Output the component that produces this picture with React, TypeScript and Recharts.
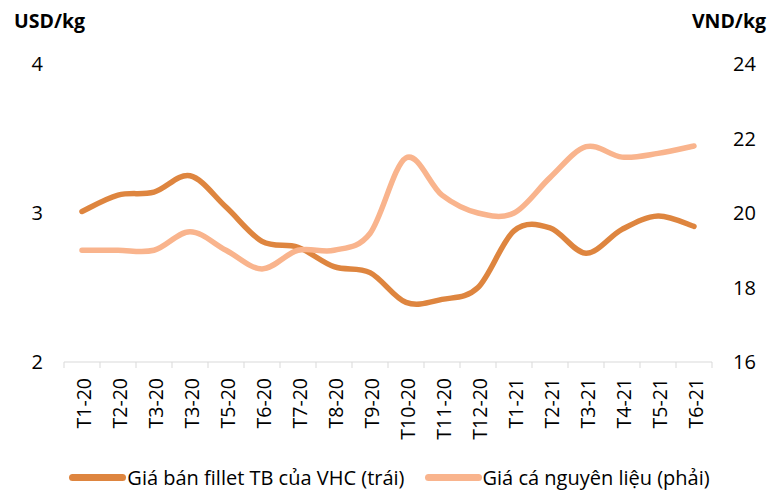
import React from 'react';
import { LineChart, Line, XAxis, YAxis, Legend } from 'recharts';

// Kỳ (tháng) – nhãn trục hoành, giữ nguyên như biểu đồ gốc
const categories = [
  'T1-20', 'T2-20', 'T3-20', 'T3-20', 'T5-20', 'T6-20', 'T7-20', 'T8-20', 'T9-20',
  'T10-20', 'T11-20', 'T12-20', 'T1-21', 'T2-21', 'T3-21', 'T4-21', 'T5-21', 'T6-21',
];

// Giá bán fillet TB của VHC (USD/kg, trục trái)
const filletPrice = [
  3.01, 3.12, 3.14, 3.25, 3.04, 2.81, 2.77, 2.64, 2.6,
  2.4, 2.42, 2.5, 2.88, 2.9, 2.73, 2.89, 2.98, 2.91,
];

// Giá cá nguyên liệu (nghìn VND/kg, trục phải)
const rawFishPrice = [
  19.0, 19.0, 19.0, 19.5, 19.0, 18.5, 19.0, 19.0, 19.45,
  21.48, 20.48, 20.0, 20.0, 20.95, 21.78, 21.5, 21.6, 21.8,
];

const leftTicks = [2, 3, 4];
const rightTicks = [16, 18, 20, 22, 24];

const SERIES = [
  { key: 'fillet', name: 'Giá bán fillet TB của VHC (trái)', color: '#DE853F' },
  { key: 'raw', name: 'Giá cá nguyên liệu (phải)', color: '#F9B48D' },
];

const FONT = '"Open Sans", sans-serif';

const data = categories.map((month, i) => ({
  idx: i,
  month,
  fillet: filletPrice[i],
  raw: rawFishPrice[i],
}));

// đường làm mượt kiểu Excel (Catmull-Rom)
const smoothCurve = (context: any) => {
  let pts: number[][] = [];
  return {
    areaStart() {},
    areaEnd() {},
    lineStart() {
      pts = [];
    },
    point(x: number, y: number) {
      pts.push([+x, +y]);
    },
    lineEnd() {
      if (!pts.length) return;
      context.moveTo(pts[0][0], pts[0][1]);
      for (let i = 0; i < pts.length - 1; i++) {
        const p0 = pts[i - 1] || pts[i];
        const p1 = pts[i];
        const p2 = pts[i + 1];
        const p3 = pts[i + 2] || p2;
        context.bezierCurveTo(
          p1[0] + (p2[0] - p0[0]) / 6,
          p1[1] + (p2[1] - p0[1]) / 6,
          p2[0] - (p3[0] - p1[0]) / 6,
          p2[1] - (p3[1] - p1[1]) / 6,
          p2[0],
          p2[1],
        );
      }
    },
  };
};

// nửa độ rộng một ô tháng: (712 - 64) / 18 / 2
const HALF = 18;

const MonthTick = (props: any) => {
  const { x, y, payload, index } = props;
  const label = categories[payload.value];
  return (
    <g>
      <line x1={x - HALF} y1={y - 8} x2={x - HALF} y2={y - 2} stroke="#d9d9d9" />
      {index === categories.length - 1 && (
        <line x1={x + HALF} y1={y - 8} x2={x + HALF} y2={y - 2} stroke="#d9d9d9" />
      )}
      <text
        transform={`translate(${x + 1},${y + 8}) rotate(-90)`}
        textAnchor="end"
        dominantBaseline="central"
        fontSize={19.5}
        fontFamily={FONT}
        fill="#000"
      >
        {label}
      </text>
    </g>
  );
};

const LegendBox = () => (
  <div style={{ display: 'flex', justifyContent: 'center', height: 30, paddingTop: 3, boxSizing: 'border-box', fontFamily: FONT, fontSize: 20, color: '#000', lineHeight: '24px' }}>
    {SERIES.map((s, i) => (
      <div key={s.key} style={{ display: 'flex', alignItems: 'center', marginLeft: i ? 20 : 0 }}>
        <span style={{ width: 57, height: 7, borderRadius: 4, background: s.color, marginRight: 1 }} />
        <span>{s.name}</span>
      </div>
    ))}
  </div>
);

export default function App() {
  return (
    <div style={{ position: 'absolute', left: 0, top: 0, width: 779, height: 491, background: '#fff' }}>
      <LineChart
        width={779}
        height={491}
        data={data}
        margin={{ top: 64, right: 0, left: 0, bottom: 0 }}
      >
        <XAxis
          dataKey="idx"
          type="category"
          height={99}
          padding={{ left: HALF, right: HALF }}
          axisLine={{ stroke: '#d9d9d9' }}
          tickLine={false}
          interval={0}
          tick={<MonthTick />}
        />
        <YAxis
          yAxisId="left"
          width={64}
          domain={[2, 4]}
          ticks={leftTicks}
          axisLine={false}
          tickLine={false}
          tickSize={0}
          tickMargin={21}
          tick={{ fontSize: 20, fontFamily: FONT, fill: '#000' }}
          label={{
            content: () => (
              <text x={14} y={28} fontSize={19.5} fontWeight={700} fontFamily={FONT} fill="#000">USD/kg</text>
            ),
          }}
        />
        <YAxis
          yAxisId="right"
          orientation="right"
          width={67}
          domain={[16, 24]}
          ticks={rightTicks}
          axisLine={false}
          tickLine={false}
          tickSize={0}
          tickMargin={21}
          tick={{ fontSize: 20, fontFamily: FONT, fill: '#000' }}
          label={{
            content: () => (
              <text x={766} y={28} textAnchor="end" fontSize={19.5} fontWeight={700} fontFamily={FONT} fill="#000">VND/kg</text>
            ),
          }}
        />
        <Legend verticalAlign="bottom" content={<LegendBox />} />
        <Line
          yAxisId="left"
          dataKey="fillet"
          name={SERIES[0].name}
          type={smoothCurve as any}
          stroke={SERIES[0].color}
          strokeWidth={5.5}
          strokeLinecap="round"
          dot={false}
          activeDot={false}
          isAnimationActive={false}
        />
        <Line
          yAxisId="right"
          dataKey="raw"
          name={SERIES[1].name}
          type={smoothCurve as any}
          stroke={SERIES[1].color}
          strokeWidth={5.5}
          strokeLinecap="round"
          dot={false}
          activeDot={false}
          isAnimationActive={false}
        />
      </LineChart>
    </div>
  );
}
